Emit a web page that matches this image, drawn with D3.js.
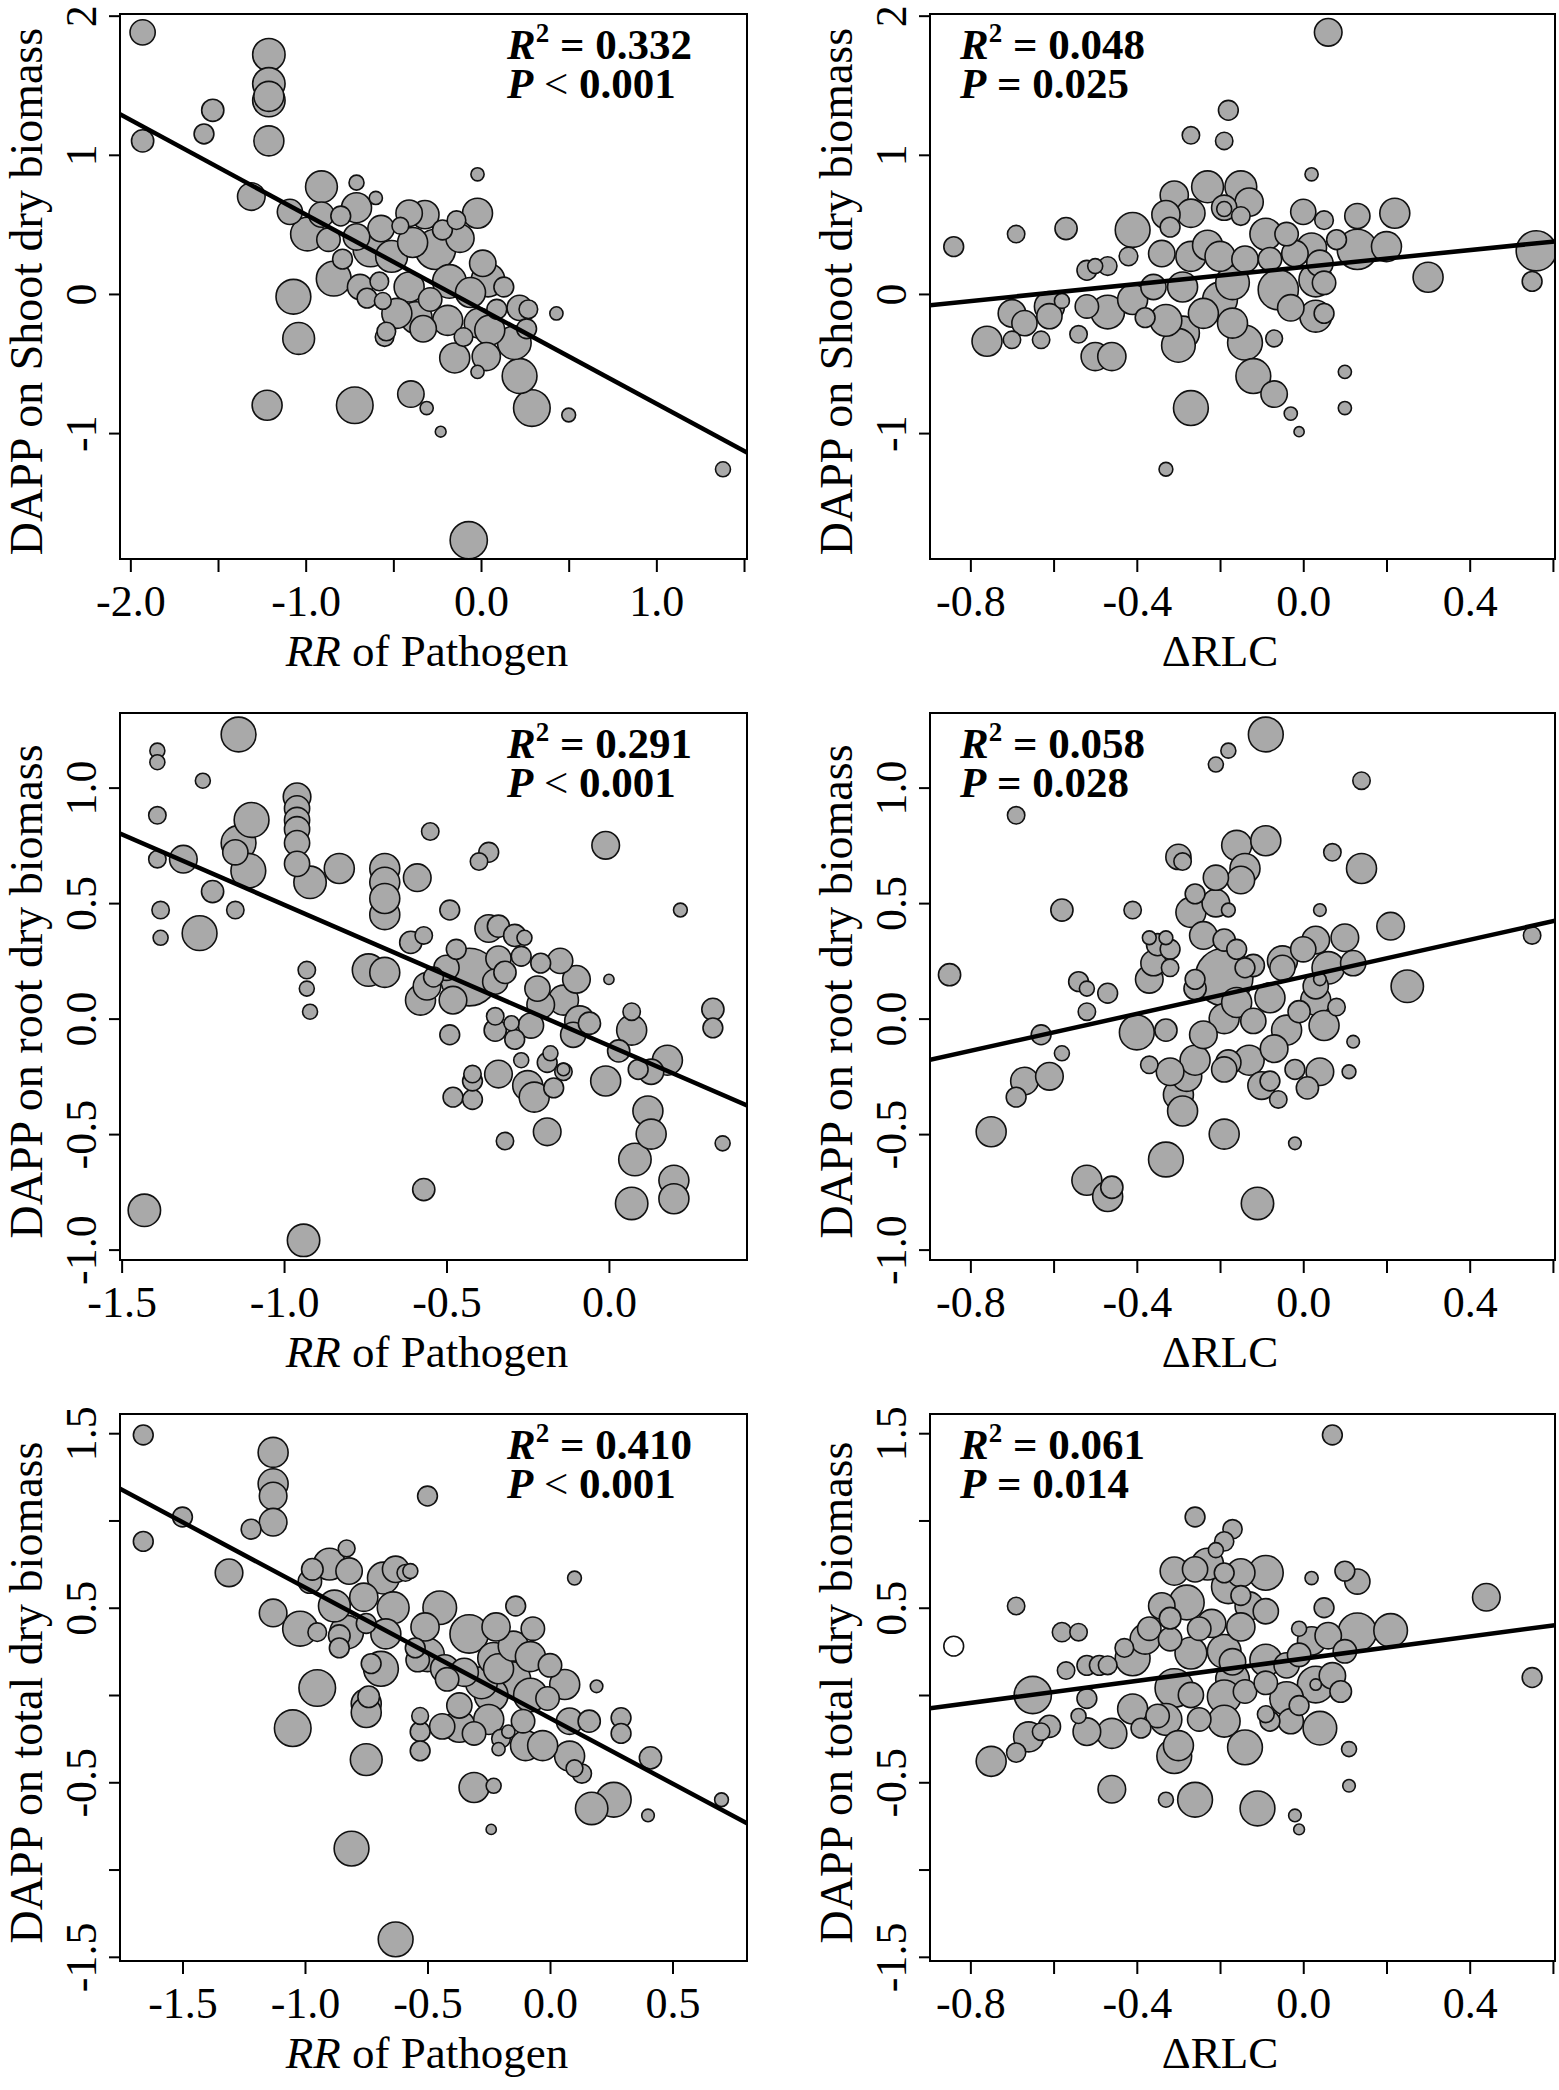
<!DOCTYPE html>
<meta charset="utf-8">
<head>
<style>
  body {margin: 0; background-color: #ffffff;}
  text {font-family: "Liberation Serif", "Times New Roman", serif; fill: #000;}
</style>
<title></title>
</head>
<body>
<script src="https://d3js.org/d3.v7.min.js"></script>
<script>

// each point: [x, y, size]  (size -> circle radius through a scale)
const shootRR = [[-1.93,1.88,4.2],[-1.93,1.10,3.7],[-1.53,1.32,3.7],[-1.58,1.15,3.3],[-1.21,1.72,5.4],[-1.21,1.51,5.4],[-1.21,1.39,5.4],[-1.21,1.42,5.0],[-1.21,1.10,5.0],[-1.31,0.70,4.6],[-0.23,-0.99,1.8],[-0.07,-1.77,6.2],[1.38,-1.26,2.5],[0.50,-0.87,2.3],
  [-0.91,0.77,5.3],[-0.71,0.80,2.5],[-0.60,0.69,2.2],[-1.09,0.59,4.2],[-0.91,0.57,4.2],[-0.71,0.62,5.0],[-0.99,0.43,5.6],[-0.87,0.39,3.9],[-0.57,0.47,4.4],[-0.41,0.58,4.4],[-0.32,0.57,4.7],[-0.14,0.53,3.1],[-0.02,0.58,5.0],[-0.02,0.86,2.2],[-0.12,0.40,4.7],[-0.71,0.41,4.4],[-0.63,0.32,5.8],[-0.51,0.27,5.3],[-0.39,0.37,5.0],[-0.26,0.32,6.7],[-0.84,0.11,5.8],[-0.69,0.05,4.2],[-0.65,-0.03,3.3],[-1.07,-0.02,5.8],[-1.04,-0.32,5.3],[-0.55,-0.31,3.1],[-0.54,-0.27,3.1],[-0.41,0.05,5.0],[-0.48,-0.14,5.0],[-0.37,-0.17,5.3],[-0.33,-0.25,4.4],[-0.18,0.09,5.6],[-0.06,0.01,5.0],[0.04,0.10,5.6],[-0.19,-0.19,5.0],[-0.01,-0.21,5.0],[0.22,-0.10,4.2],[0.27,-0.11,3.1],[0.26,-0.25,3.3],[0.43,-0.14,2.2],[0.19,-0.35,5.6],[0.05,-0.26,5.0],[0.03,-0.45,4.7],[-0.15,-0.46,5.0],[-0.10,-0.31,3.1],[-0.02,-0.56,2.2],[0.22,-0.59,5.8],[0.29,-0.82,6.1],[-0.40,-0.72,4.4],[-0.31,-0.82,2.2],[-0.72,-0.80,6.1],[-1.22,-0.80,5.0],[0.01,0.22,4.4],[-0.79,0.25,3.3],[-0.58,0.09,3.1],[-0.29,-0.04,3.9],[-0.56,-0.05,2.8],[0.13,0.05,3.3],[0.09,-0.11,3.3],[-0.80,0.56,3.3],[-0.46,0.49,2.8],[-0.22,0.46,3.3]];

const shootRLC = [[-0.84,0.34,3.3],[-0.69,0.43,2.9],[-0.57,0.47,3.7],[-0.76,-0.34,5.0],[-0.70,-0.33,2.9],[-0.63,-0.33,2.9],[-0.70,-0.14,4.6],[-0.67,-0.21,4.2],[-0.61,-0.09,5.0],[-0.61,-0.16,4.2],[-0.58,-0.05,2.5],[-0.54,-0.29,2.9],[-0.27,1.14,2.9],[-0.19,1.10,2.9],[-0.18,1.32,3.3],[0.06,1.88,4.6],[-0.33,-1.26,2.3],[-0.01,-0.99,1.7],[0.30,0.12,5.0],[0.56,0.31,6.7],[0.55,0.09,3.3],
  [0.02,0.86,2.2],[-0.23,0.77,5.3],[-0.15,0.77,5.3],[-0.13,0.66,4.7],[-0.19,0.62,4.2],[-0.19,0.61,2.5],[-0.15,0.56,3.1],[-0.31,0.71,4.7],[-0.27,0.58,4.7],[-0.33,0.57,4.7],[-0.32,0.48,3.3],[-0.41,0.46,5.8],[-0.42,0.27,3.1],[-0.47,0.20,3.1],[-0.50,0.20,2.5],[-0.52,0.17,3.3],[-0.34,0.29,4.4],[-0.27,0.27,5.0],[-0.23,0.35,5.0],[-0.20,0.27,5.0],[-0.14,0.25,4.4],[-0.09,0.43,5.3],[-0.08,0.25,3.9],[-0.04,0.43,3.9],[0.00,0.59,4.2],[0.05,0.53,3.1],[0.02,0.33,5.0],[-0.02,0.29,4.4],[0.13,0.56,4.2],[0.13,0.32,6.7],[0.22,0.58,5.0],[0.20,0.34,5.0],[0.08,0.39,3.3],[0.04,0.22,4.4],[0.03,0.10,5.6],[-0.06,0.03,6.7],[-0.03,-0.10,4.4],[0.03,-0.16,5.3],[-0.17,0.08,5.6],[-0.20,-0.04,5.8],[-0.17,-0.21,5.0],[-0.14,-0.35,5.8],[-0.12,-0.59,5.8],[-0.07,-0.72,4.4],[-0.03,-0.86,2.2],[-0.07,-0.32,2.8],[-0.27,-0.82,5.8],[0.10,-0.56,2.2],[0.10,-0.82,2.2],[-0.36,0.05,4.2],[-0.41,-0.04,5.0],[-0.47,-0.13,5.6],[-0.52,-0.09,3.9],[-0.38,-0.17,3.3],[-0.33,-0.19,5.3],[-0.29,0.05,5.0],[-0.29,-0.28,5.6],[-0.30,-0.37,5.6],[-0.24,-0.14,5.0],[-0.50,-0.45,4.7],[-0.46,-0.45,4.7],[0.05,0.08,3.9],[0.05,-0.14,3.3]];

const rootRR = [[-1.14,1.23,5.8],[-1.39,1.16,2.5],[-1.39,1.11,2.5],[-1.25,1.03,2.5],[-1.39,0.88,2.9],[-1.39,0.69,2.9],[-1.31,0.69,4.6],[-1.38,0.47,2.9],[-1.38,0.35,2.5],[-1.26,0.37,5.8],[-1.22,0.55,3.7],[-1.15,0.47,2.9],[-1.14,0.76,5.8],[-1.10,0.86,5.8],[-1.11,0.64,5.8],[-1.15,0.72,4.2],[-0.96,0.96,4.6],[-0.96,0.91,4.2],[-0.96,0.86,4.2],[-0.96,0.82,4.2],[-0.96,0.76,4.2],[-0.96,0.67,4.2],[-0.92,0.59,5.4],[-0.93,0.21,2.9],[-0.93,0.13,2.5],[-0.92,0.03,2.5],[-0.83,0.65,5.0],[-0.94,-0.96,5.4],[-1.43,-0.83,5.4],[-0.74,0.21,5.4],[-0.69,0.20,5.0],[-0.69,0.65,5.0],[-0.69,0.59,5.0],[-0.69,0.45,5.0],[-0.69,0.52,5.0],[-0.59,0.61,4.6],[-0.55,0.81,2.9],[-0.61,0.33,3.7],[-0.57,0.36,2.9],[-0.56,0.14,4.6],[-0.58,0.08,5.0],[-0.54,0.18,3.3],[-0.49,0.47,3.3],[-0.43,0.18,9.6],[-0.48,0.08,4.6],[-0.50,0.22,4.2],[-0.47,0.30,3.3],[-0.40,0.68,2.9],[-0.37,0.72,3.3],[-0.37,0.39,4.6],[-0.34,0.40,3.7],[-0.34,0.26,4.2],[-0.32,0.20,3.7],[-0.29,0.36,3.7],[-0.26,0.35,2.5],[-0.27,0.27,3.3],[-0.35,0.16,4.2],[-0.35,0.01,2.9],[-0.35,-0.05,3.7],[-0.30,-0.02,2.5],[-0.29,-0.09,3.3],[-0.49,-0.07,3.3],[-0.48,-0.34,3.3],[-0.42,-0.35,3.3],[-0.42,-0.27,3.3],[-0.42,-0.24,2.9],[-0.34,-0.24,4.6],[-0.32,-0.53,2.9],[-0.57,-0.74,3.7],[-0.25,-0.29,5.0],[-0.23,-0.34,5.0],[-0.27,-0.18,2.5],[-0.24,-0.03,4.2],[-0.22,0.13,4.2],[-0.21,0.06,4.6],[-0.15,0.25,4.2],[-0.18,-0.15,2.5],[-0.19,-0.19,3.3],[-0.19,-0.49,4.6],[-0.17,-0.30,3.3],[-0.14,-0.23,2.9],[-0.14,-0.22,2.1],[-0.14,0.08,5.0],[-0.10,0.17,4.6],[-0.09,-0.01,5.0],[-0.06,-0.02,3.7],[0.00,0.17,1.7],[-0.01,0.75,4.6],[-0.01,-0.27,5.0],[0.03,-0.14,3.7],[0.07,0.03,2.9],[0.07,-0.05,5.0],[0.09,-0.22,3.3],[0.12,-0.40,5.0],[0.13,-0.23,4.2],[0.18,-0.18,5.0],[0.13,-0.50,5.0],[0.08,-0.61,5.4],[0.07,-0.80,5.4],[0.20,-0.70,5.0],[0.20,-0.78,5.0],[0.22,0.47,2.3],[0.32,0.04,3.7],[0.32,-0.04,3.3],[0.35,-0.54,2.5],[-0.21,0.24,3.3],[-0.11,-0.07,4.2]];

const rootRLC = [[-0.85,0.19,3.7],[-0.69,0.88,2.9],[-0.58,0.47,3.7],[-0.75,-0.49,5.0],[-0.69,-0.34,3.3],[-0.67,-0.27,4.6],[-0.61,-0.25,4.6],[-0.63,-0.07,3.3],[-0.58,-0.15,2.5],[-0.54,0.16,3.3],[-0.52,0.13,2.5],[-0.52,0.03,2.9],[-0.47,0.11,3.3],[-0.52,-0.70,5.0],[-0.47,-0.77,5.0],[-0.46,-0.73,3.7],[-0.41,0.47,2.9],[-0.40,-0.06,5.8],[-0.37,-0.20,2.9],[-0.37,0.35,2.3],[-0.33,0.35,2.3],[-0.35,0.32,3.7],[-0.32,0.30,3.3],[-0.36,0.24,4.2],[-0.37,0.17,4.6],[-0.32,0.22,2.9],[-0.33,-0.05,3.7],[-0.33,-0.61,5.8],[-0.32,-0.23,4.6],[-0.30,0.70,4.2],[-0.29,0.68,2.9],[-0.30,-0.33,5.0],[-0.29,-0.40,5.0],[-0.28,-0.25,5.0],[-0.27,0.46,5.0],[-0.26,0.54,3.3],[-0.26,-0.18,5.0],[-0.24,-0.07,4.6],[-0.26,0.13,3.7],[-0.26,0.17,3.3],[-0.24,0.36,4.6],[-0.21,0.50,4.6],[-0.21,0.61,4.2],[-0.21,1.10,2.5],[-0.18,1.16,2.5],[-0.18,0.47,2.3],[-0.19,0.34,3.7],[-0.19,0.18,9.6],[-0.19,0.00,5.0],[-0.18,-0.19,4.2],[-0.19,-0.22,4.2],[-0.19,-0.50,5.0],[-0.16,0.07,5.0],[-0.15,0.60,4.6],[-0.16,0.75,5.0],[-0.14,0.65,5.0],[-0.16,0.30,3.3],[-0.12,0.23,3.7],[-0.12,-0.01,4.2],[-0.13,-0.18,5.0],[-0.11,-0.80,5.4],[-0.09,1.23,5.8],[-0.09,0.77,5.0],[-0.10,-0.29,4.6],[-0.08,-0.27,3.3],[-0.08,0.09,5.0],[-0.07,-0.13,4.6],[-0.06,-0.35,2.9],[-0.05,0.25,5.0],[-0.05,0.22,4.2],[-0.04,-0.05,5.0],[-0.02,-0.54,2.1],[-0.01,0.03,3.7],[-0.02,-0.22,3.3],[0.01,-0.30,3.7],[0.03,0.08,5.0],[0.03,0.34,4.6],[0.04,0.47,2.1],[0.04,0.17,2.1],[0.03,0.14,4.2],[0.05,-0.03,5.0],[0.04,-0.23,4.6],[0.06,0.22,5.4],[0.07,0.72,2.9],[0.08,0.05,2.9],[0.10,0.35,4.6],[0.12,0.24,4.2],[0.12,-0.10,2.1],[0.11,-0.23,2.3],[0.14,0.65,5.0],[0.14,1.03,2.9],[0.21,0.40,4.6],[0.25,0.14,5.4],[0.55,0.36,2.9],[0.00,0.30,4.2],[-0.14,0.22,3.3]];

const totalRR = [[-1.66,1.49,3.3],[-1.66,0.88,3.3],[-1.50,1.02,3.3],[-1.22,0.95,3.3],[-1.31,0.70,4.6],[-1.13,1.39,5.0],[-1.13,1.21,5.0],[-1.13,1.14,4.6],[-1.13,0.99,4.6],[-1.13,0.47,4.6],[-0.50,1.14,3.3],[0.10,0.67,2.3],[-0.81,-0.88,5.8],[-0.63,-1.40,5.8],[0.16,-0.15,3.7],[0.19,0.05,2.1],[0.29,-0.13,3.3],[0.29,-0.22,3.3],[0.41,-0.36,3.7],[0.26,-0.60,5.8],[0.17,-0.65,5.4],[0.40,-0.69,2.1],[0.70,-0.60,2.3],[-0.24,-0.77,1.7],[0.13,-0.45,3.2],[0.08,-0.35,5.0],
  [-0.83,0.84,2.8],[-0.90,0.75,5.3],[-0.97,0.72,3.6],[-0.98,0.65,3.9],[-0.82,0.71,4.4],[-0.68,0.67,5.3],[-0.63,0.72,4.4],[-0.59,0.70,2.8],[-0.57,0.71,2.5],[-0.88,0.51,5.3],[-0.76,0.56,4.7],[-0.64,0.50,5.3],[-0.45,0.50,5.6],[-1.02,0.38,5.8],[-0.95,0.36,3.1],[-0.83,0.36,5.6],[-0.86,0.34,3.6],[-0.86,0.27,3.3],[-0.75,0.41,3.3],[-0.67,0.35,5.0],[-0.51,0.39,4.7],[-0.55,0.27,3.3],[-0.50,0.23,5.6],[-0.54,0.20,3.9],[-0.33,0.35,6.4],[-0.22,0.39,4.7],[-0.14,0.51,3.3],[-0.07,0.38,3.9],[-0.69,0.15,5.8],[-0.73,0.18,3.3],[-0.95,0.04,6.1],[-0.75,-0.05,5.0],[-0.74,-0.01,3.6],[-0.75,-0.10,5.0],[-1.05,-0.19,6.1],[-0.75,-0.37,5.3],[-0.43,0.15,4.7],[-0.35,0.13,4.7],[-0.28,0.07,5.3],[-0.23,0.21,5.3],[-0.21,0.15,5.0],[-0.15,0.28,5.0],[-0.08,0.22,5.0],[-0.15,0.09,5.8],[-0.24,0.00,5.6],[-0.08,0.00,5.6],[-0.01,-0.02,3.9],[0.06,0.06,5.0],[-0.37,-0.06,4.2],[-0.42,0.09,3.9],[-0.53,-0.12,2.8],[-0.53,-0.21,3.3],[-0.53,-0.32,3.3],[-0.44,-0.18,4.2],[-0.37,-0.18,5.3],[-0.31,-0.22,3.9],[-0.25,-0.14,5.0],[-0.20,-0.25,3.1],[-0.21,-0.31,2.2],[-0.17,-0.21,2.2],[-0.11,-0.15,3.9],[-0.10,-0.29,5.0],[-0.03,-0.29,5.0],[0.08,-0.15,4.4],[-0.31,-0.53,5.0],[-0.23,-0.52,2.5],[0.10,-0.42,2.8],[0.00,0.17,3.9]];

const totalRLC = [[-0.69,0.51,2.9],[-0.58,0.36,3.2],[-0.54,0.36,2.9],[-0.57,0.14,2.9],[-0.52,0.17,3.3],[-0.65,0.00,6.2],[-0.52,-0.02,3.3],[-0.54,-0.12,2.5],[-0.75,-0.38,5.0],[-0.69,-0.33,3.2],[-0.66,-0.24,5.0],[-0.61,-0.18,3.7],[-0.63,-0.21,2.9],[-0.52,-0.21,4.6],[-0.46,-0.22,5.0],[-0.46,-0.54,4.6],[-0.33,-0.60,2.5],[-0.26,-0.60,5.8],[-0.26,1.02,3.3],[-0.17,0.95,3.2],[-0.19,0.88,3.2],[-0.21,0.83,2.5],[0.07,1.49,3.3],[-0.02,-0.69,2.1],[-0.01,-0.77,1.8],[-0.11,-0.65,5.8],[0.44,0.56,4.6],[0.55,0.10,3.3],[0.11,-0.52,2.1],
  [-0.31,0.71,4.7],[-0.26,0.72,4.2],[-0.23,0.75,5.3],[-0.19,0.70,3.3],[-0.15,0.70,4.7],[-0.09,0.70,5.8],[-0.18,0.62,5.6],[-0.15,0.57,3.3],[-0.34,0.51,4.4],[-0.28,0.53,5.8],[-0.32,0.44,3.6],[-0.22,0.41,4.7],[-0.13,0.51,4.7],[-0.09,0.48,4.2],[-0.15,0.39,4.7],[-0.37,0.38,3.9],[-0.38,0.32,5.0],[-0.32,0.32,3.9],[-0.25,0.38,3.9],[-0.41,0.21,5.8],[-0.43,0.27,3.1],[-0.47,0.17,3.1],[-0.27,0.24,5.3],[-0.19,0.25,5.6],[-0.17,0.19,4.4],[-0.09,0.20,5.3],[-0.04,0.17,4.2],[0.02,0.31,4.7],[-0.01,0.38,2.5],[0.06,0.34,4.4],[0.13,0.36,6.4],[0.21,0.37,5.6],[0.10,0.25,3.9],[-0.01,0.23,3.9],[0.02,0.67,2.2],[0.10,0.71,3.3],[0.13,0.65,4.2],[0.05,0.50,3.3],[-0.31,0.04,6.4],[-0.27,0.00,4.2],[-0.17,0.09,5.6],[-0.19,-0.01,5.6],[-0.14,0.02,3.9],[-0.09,0.07,3.9],[-0.04,-0.02,5.6],[0.03,0.06,6.1],[0.03,0.06,1.9],[0.07,0.11,4.4],[0.09,0.02,3.6],[-0.01,-0.06,3.3],[-0.41,-0.08,5.0],[-0.39,-0.19,3.3],[-0.33,-0.14,5.3],[-0.35,-0.12,3.9],[-0.25,-0.14,3.9],[-0.19,-0.15,5.3],[-0.30,-0.29,5.0],[-0.31,-0.35,5.8],[-0.14,-0.30,5.8],[-0.08,-0.15,3.3],[-0.03,-0.15,4.2],[0.04,-0.19,5.6],[0.11,-0.31,2.5],[-0.49,0.17,3.3],[-0.09,-0.11,2.8]];
// the one open (unfilled) study in the total / RLC panel
const totalRLCOpen = [[-0.84,0.28,3.3]];

// fitted lines: [intercept, slope]
const fits = [[-0.109,-0.680],[0.193,0.305],[-0.117,-0.610],[0.181,0.401],[-0.133,-0.749],[0.208,0.317]];
const r2Text = ["0.332","0.048","0.291","0.058","0.410","0.061"];
const pSign = ["<","=","<","=","<","="];
const pText = ["0.001","0.025","0.001","0.028","0.001","0.014"];

const yTitles = ["DAPP on Shoot dry biomass","DAPP on root dry biomass","DAPP on total dry biomass"];

// axis limits and ticks
const xLimRR = [[-2.059,1.517],[-1.505,0.425],[-1.755,0.804]];
const xLimRLC = [-0.897,0.605];
const yLim = [[-1.905,2.012],[-1.045,1.323],[-1.524,1.610]];

const xTicksRR = [[-2,-1.5,-1,-0.5,0,0.5,1,1.5],[-1.5,-1,-0.5,0],[-1.5,-1,-0.5,0,0.5]];
const xLabelsRR = [["-2.0","","-1.0","","0.0","","1.0",""],["-1.5","-1.0","-0.5","0.0"],["-1.5","-1.0","-0.5","0.0","0.5"]];
const xTicksRLC = [-0.8,-0.6,-0.4,-0.2,0,0.2,0.4,0.6];
const xLabelsRLC = ["-0.8","","-0.4","","0.0","","0.4",""];
const yTicks = [[-1,0,1,2],[-1,-0.5,0,0.5,1],[-1.5,-1,-0.5,0,0.5,1,1.5]];
const yLabels = [["-1","0","1","2"],["-1.0","-0.5","0.0","0.5","1.0"],["-1.5","","-0.5","","0.5","","1.5"]];

// layout (pixels)
const boxLeft = [120, 930], boxRight = [747, 1555];
const boxTop = [14, 713, 1414], boxBottom = [559, 1260, 1961];
const xTitleX = [427, 1220];
const statX = [507, 960];

const svg = d3.select("body")
  .append("svg")
    .attr("width", 1559)
    .attr("height", 2090);

const rScale = d3.scaleLinear().domain([0, 10]).range([0, 30]);

const series = [[shootRR, shootRLC], [rootRR, rootRLC], [totalRR, totalRLC]];

function drawPanel(row, col) {
  const i = row * 2 + col;
  const left = boxLeft[col], right = boxRight[col];
  const top = boxTop[row], bottom = boxBottom[row];
  const xDom = col == 0 ? xLimRR[row] : xLimRLC;

  const x = d3.scaleLinear().domain(xDom).range([left, right]);
  const y = d3.scaleLinear().domain(yLim[row]).range([bottom, top]);

  const g = svg.append("g");

  g.append("clipPath").attr("id", "clip" + i)
    .append("rect")
      .attr("x", left).attr("y", top)
      .attr("width", right - left).attr("height", bottom - top);

  const pts = series[row][col].slice().sort((a, b) => b[2] - a[2]);
  const inner = g.append("g").attr("clip-path", "url(#clip" + i + ")");

  inner.selectAll("circle.pt")
    .data(pts)
    .enter()
    .append("circle")
      .attr("class", "pt")
      .attr("cx", d => x(d[0]))
      .attr("cy", d => y(d[1]))
      .attr("r", d => rScale(d[2]))
      .attr("fill", "#a9a9a9")
      .attr("stroke", "#111")
      .attr("stroke-width", 1.6);

  if (i == 5) {
    inner.selectAll("circle.open")
      .data(totalRLCOpen)
      .enter()
      .append("circle")
        .attr("class", "open")
        .attr("cx", d => x(d[0]))
        .attr("cy", d => y(d[1]))
        .attr("r", d => rScale(d[2]))
        .attr("fill", "#fff")
        .attr("stroke", "#111")
        .attr("stroke-width", 1.6);
  }

  const a = fits[i][0], b = fits[i][1];
  inner.append("line")
    .attr("x1", x(xDom[0])).attr("y1", y(a + b * xDom[0]))
    .attr("x2", x(xDom[1])).attr("y2", y(a + b * xDom[1]))
    .attr("stroke", "#000")
    .attr("stroke-width", 4.5);

  g.append("rect")
    .attr("x", left).attr("y", top)
    .attr("width", right - left).attr("height", bottom - top)
    .attr("fill", "none")
    .attr("stroke", "#000")
    .attr("stroke-width", 2);

  // x axis
  const xt = col == 0 ? xTicksRR[row] : xTicksRLC;
  const xl = col == 0 ? xLabelsRR[row] : xLabelsRLC;
  const xAxis = g.append("g")
    .attr("transform", "translate(0," + bottom + ")")
    .call(d3.axisBottom(x).tickValues(xt).tickSize(13).tickSizeOuter(0)
      .tickFormat((d, k) => xl[k]));
  xAxis.select(".domain").remove();
  xAxis.selectAll("line").attr("stroke", "#000").attr("stroke-width", 2);
  xAxis.selectAll("text")
    .attr("y", 57)
    .attr("dy", 0)
    .attr("fill", "#000")
    .style("font-family", "Liberation Serif")
    .style("font-size", "44px");

  // y axis
  const yAxis = g.append("g")
    .attr("transform", "translate(" + left + ",0)")
    .call(d3.axisLeft(y).tickValues(yTicks[row]).tickSize(11).tickSizeOuter(0)
      .tickFormat((d, k) => yLabels[row][k]));
  yAxis.select(".domain").remove();
  yAxis.selectAll("line").attr("stroke", "#000").attr("stroke-width", 2);
  yAxis.selectAll("text")
    .attr("x", 0)
    .attr("dy", 0)
    .attr("text-anchor", "middle")
    .attr("transform", "translate(-24,0) rotate(-90)")
    .attr("fill", "#000")
    .style("font-family", "Liberation Serif")
    .style("font-size", "44px");

  // axis titles
  const xTitle = g.append("text")
    .attr("x", xTitleX[col])
    .attr("y", bottom + 107)
    .attr("text-anchor", "middle")
    .style("font-size", "45px");
  if (col == 0) {
    xTitle.append("tspan").style("font-style", "italic").text("RR");
    xTitle.append("tspan").text(" of Pathogen");
  } else {
    xTitle.text("\u0394RLC");
  }

  g.append("text")
    .attr("transform", "translate(" + (left - 78) + "," + ((top + bottom) / 2 + 5) + ") rotate(-90)")
    .attr("text-anchor", "middle")
    .style("font-size", "46px")
    .text(yTitles[row]);

  // statistics
  const s1 = g.append("text")
    .attr("x", statX[col]).attr("y", top + 45)
    .style("font-size", "43px").style("font-weight", "bold");
  s1.append("tspan").style("font-style", "italic").text("R");
  s1.append("tspan").attr("dy", -17).style("font-size", "27px").text("2");
  s1.append("tspan").attr("dy", 17).text(" = " + r2Text[i]);

  const s2 = g.append("text")
    .attr("x", statX[col]).attr("y", top + 84)
    .style("font-size", "43px").style("font-weight", "bold");
  s2.append("tspan").style("font-style", "italic").text("P");
  s2.append("tspan").style("font-weight", pSign[i] == "<" ? "normal" : "bold").text(" " + pSign[i] + " ");
  s2.append("tspan").text(pText[i]);
}

for (let row = 0; row < 3; row++) {
  for (let col = 0; col < 2; col++) {
    drawPanel(row, col);
  }
}

</script>
</body>
</html>
